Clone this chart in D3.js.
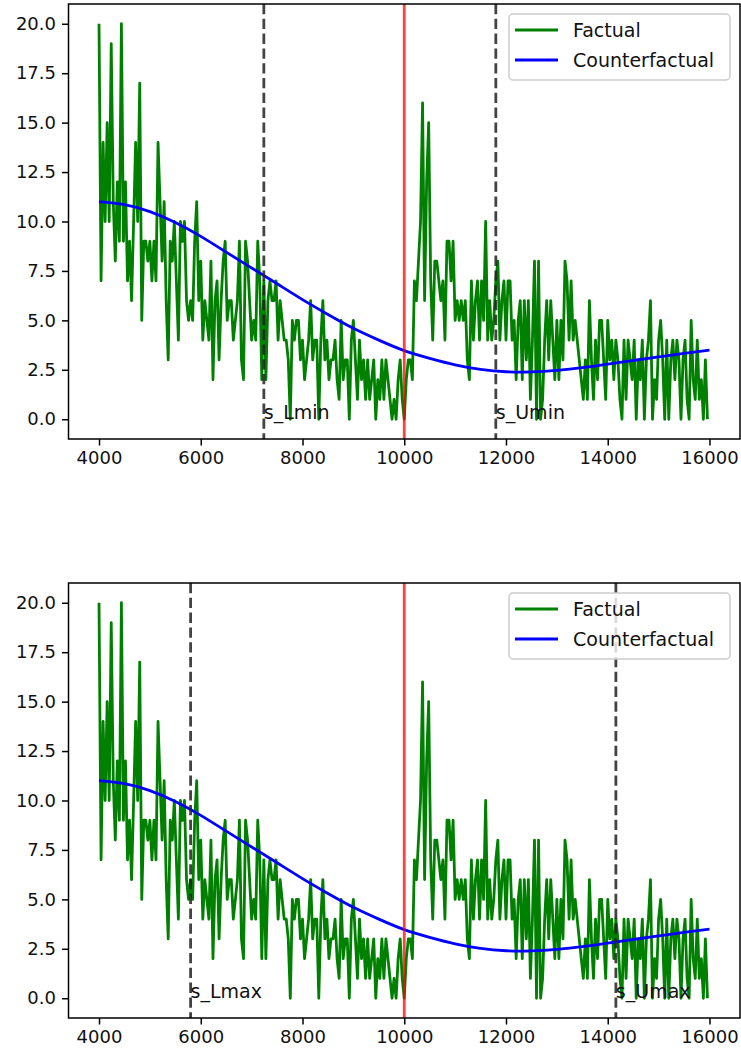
<!DOCTYPE html>
<html>
<head>
<meta charset="utf-8">
<script src="https://cdn.jsdelivr.net/npm/d3@7"></script>
<style>
  body { margin: 0; background: #fff; }
  svg { display: block; }
  text { font-family: "DejaVu Sans", sans-serif; }
</style>
</head>
<body>
<svg id="fig" width="741" height="1053"></svg>
<script>
// Observed series, sampled every 40 units starting at 4000
const sampleStart = 4000;
const sampleStep = 40;
const factual = [
  20, 7, 14, 10, 15, 10, 19, 11, 8, 12, 9, 20, 9, 12, 7, 9, 6, 10, 14, 10,
  17, 5, 9, 9, 8, 9, 7, 9, 7, 14, 11, 8, 11, 6, 3, 9, 8, 10, 7, 4,
  10, 9, 10, 6, 5, 6, 5, 9, 11, 6, 8, 4, 6, 5, 4, 8, 2, 6, 7, 3,
  6, 8, 9, 5, 6, 6, 4, 5, 6, 9, 3, 2, 9, 8, 6, 4, 5, 4, 9, 7, 2, 7,
  2, 6, 7, 6, 6, 7, 4, 6, 5, 4, 4, 3, 0, 5, 4, 5, 5, 3, 4, 2,
  3, 4, 6, 3, 4, 4, 0, 4, 6, 3, 4, 2, 3, 3, 4, 2, 1, 5, 2, 3, 3, 0,
  4, 5, 3, 1, 4, 2, 3, 1, 3, 1, 2, 3, 0, 2, 1, 3, 1, 3, 2, 1,
  0, 1, 0, 2, 3, 1, 0, 2, 3, 3, 2, 7, 6, 8, 10, 16, 6, 12, 15, 7, 4, 8,
  8, 7, 6, 7, 4, 9, 9, 7, 9, 5, 6, 5, 6, 5, 6, 3, 2, 7, 4, 6,
  7, 4, 7, 5, 10, 4, 6, 4, 5, 7, 8, 4, 6, 7, 4, 7, 7, 4, 5, 2, 5,
  6, 2, 6, 3, 6, 1, 4, 8, 0, 8, 0, 1, 4, 6, 3, 6, 4, 2, 5, 2,
  5, 3, 8, 7, 4, 7, 4, 5, 4, 3, 2, 1, 3, 1, 6, 3, 1, 4, 2, 5, 5, 3,
  1, 5, 3, 4, 2, 4, 3, 1, 0, 4, 1, 4, 3, 2, 4, 0, 3, 2, 4, 0,
  3, 4, 6, 0, 2, 1, 4, 5, 3, 0, 4, 0, 3, 4, 2, 4, 3, 0, 3, 4,
  1, 0, 5, 2, 1, 4, 1, 2, 0, 3, 0
];

// Smooth counterfactual trend
const counterfactualX = [4000, 4500, 5000, 5500, 6000, 6500, 7000, 7500, 8000, 8500,
  9000, 9500, 10000, 10500, 11000, 11500, 12000, 12500, 13000, 13500,
  14000, 14500, 15000, 15500, 16000];
const counterfactualY = [11.0, 10.85, 10.5, 9.95, 9.25, 8.45, 7.65, 6.85, 6.05, 5.3,
  4.6, 4.0, 3.47, 3.08, 2.75, 2.52, 2.4, 2.39, 2.47, 2.61,
  2.79, 2.97, 3.15, 3.33, 3.5];

const xTicks = [4000, 6000, 8000, 10000, 12000, 14000, 16000];
const yTicks = [0, 2.5, 5, 7.5, 10, 12.5, 15, 17.5, 20];
const treatmentX = 10000;
const seriesNames = ["Factual", "Counterfactual"];
const seriesColors = ["#008000", "#0000ff"];

const minBounds = [{ x: 7240, label: "s_Lmin" }, { x: 11800, label: "s_Umin" }];
const maxBounds = [{ x: 5800, label: "s_Lmax" }, { x: 14160, label: "s_Umax" }];

const factualPoints = factual.map((v, i) => [sampleStart + i * sampleStep, v]);
const counterfactualPoints = counterfactualX.map((x, i) => [x, counterfactualY[i]]);

const svg = d3.select("#fig");
svg.append("rect").attr("width", 741).attr("height", 1053).attr("fill", "#fff");

const left = 68.5, right = 740;
const x = d3.scaleLinear().domain([3400, 16600]).range([left, right]);

function panel(top, bottom, bounds, id) {
  const y = d3.scaleLinear().domain([-1, 21]).range([bottom, top]);
  const g = svg.append("g");

  g.append("clipPath").attr("id", "clip" + id)
    .append("rect").attr("x", left).attr("y", top)
    .attr("width", right - left).attr("height", bottom - top);

  const plot = g.append("g").attr("clip-path", `url(#clip${id})`);
  const line = d3.line().x(d => x(d[0])).y(d => y(d[1]));

  plot.append("path").datum(factualPoints)
    .attr("d", line)
    .attr("fill", "none").attr("stroke", seriesColors[0])
    .attr("stroke-width", 2.8).attr("stroke-linejoin", "round");

  plot.append("path").datum(counterfactualPoints)
    .attr("d", line.curve(d3.curveNatural))
    .attr("fill", "none").attr("stroke", seriesColors[1])
    .attr("stroke-width", 2.8);

  plot.append("line")
    .attr("x1", x(treatmentX)).attr("x2", x(treatmentX))
    .attr("y1", top).attr("y2", bottom)
    .attr("stroke", "red").attr("stroke-opacity", 0.75).attr("stroke-width", 2.8);

  plot.selectAll(".bound").data(bounds).join("line")
    .attr("x1", d => x(d.x)).attr("x2", d => x(d.x))
    .attr("y1", top).attr("y2", bottom)
    .attr("stroke", "#222").attr("stroke-opacity", 0.85)
    .attr("stroke-width", 2.8).attr("stroke-dasharray", "10.3,4.5");

  g.selectAll(".bound-label").data(bounds).join("text")
    .attr("x", d => x(d.x)).attr("y", y(0))
    .attr("font-size", 19).attr("fill", "#111")
    .text(d => d.label);

  // frame
  g.append("rect").attr("x", left).attr("y", top)
    .attr("width", right - left).attr("height", bottom - top)
    .attr("fill", "none").attr("stroke", "#000").attr("stroke-width", 1.5);

  const yAxis = g.append("g").attr("transform", `translate(${left},0)`)
    .call(d3.axisLeft(y).tickValues(yTicks).tickFormat(d3.format(".1f"))
      .tickSize(6.5).tickPadding(6).tickSizeOuter(0));
  const xAxis = g.append("g").attr("transform", `translate(0,${bottom})`)
    .call(d3.axisBottom(x).tickValues(xTicks).tickFormat(d3.format("d"))
      .tickSize(6.5).tickPadding(6).tickSizeOuter(0));
  [yAxis, xAxis].forEach(a => {
    a.select(".domain").remove();
    a.selectAll(".tick line").attr("stroke", "#000").attr("stroke-width", 1.5);
    a.selectAll(".tick text").attr("font-size", 18).attr("fill", "#111")
      .attr("font-family", '"DejaVu Sans", sans-serif');
  });

  // legend
  const lg = g.append("g");
  lg.append("rect").attr("x", 509).attr("y", top + 10).attr("width", 221).attr("height", 66)
    .attr("rx", 4).attr("fill", "#fff").attr("fill-opacity", 0.8)
    .attr("stroke", "#cccccc").attr("stroke-width", 1.5);
  seriesNames.forEach((name, i) => {
    const cy = top + 26 + i * 30;
    lg.append("line").attr("x1", 515).attr("x2", 558).attr("y1", cy).attr("y2", cy)
      .attr("stroke", seriesColors[i]).attr("stroke-width", 2.8);
    lg.append("text").attr("x", 573).attr("y", cy + 7)
      .attr("font-size", 19).attr("fill", "#111").text(name);
  });
}

panel(4, 439, minBounds, 0);
panel(583, 1018, maxBounds, 1);
</script>
</body>
</html>
